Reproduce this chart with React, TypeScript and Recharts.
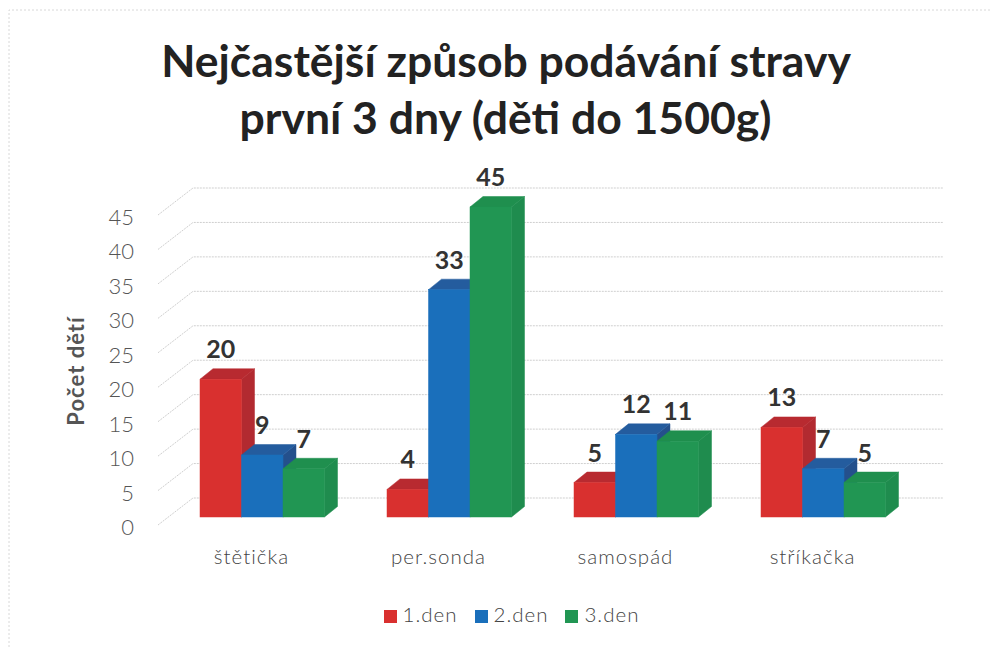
import React from "react";
import {
  BarChart,
  Bar,
  XAxis,
  YAxis,
  CartesianGrid,
  Legend,
  LabelList,
} from "recharts";

const categories = ["štětička", "per.sonda", "samospád", "stříkačka"];
const den1 = [20, 4, 5, 13];
const den2 = [9, 33, 12, 7];
const den3 = [7, 45, 11, 5];
const yTicks = [0, 5, 10, 15, 20, 25, 30, 35, 40, 45];

const data = categories.map((name, i) => ({
  name,
  den1: den1[i],
  den2: den2[i],
  den3: den3[i],
}));

const FONT = "Lato, sans-serif";
const DEPTH_X = 13;
const DEPTH_Y = 10.5;

// front face plus top and side, fake 3D like the excel chart
const makeBar3D = (front: string, top: string, side: string) => (props: any) => {
  const { x, y, width, height } = props;
  return (
    <g>
      <polygon
        points={`${x + width},${y} ${x + width + DEPTH_X},${y - DEPTH_Y} ${x + width + DEPTH_X},${y + height - DEPTH_Y} ${x + width},${y + height}`}
        fill={side}
        stroke={side}
        strokeWidth={0.5}
      />
      <polygon
        points={`${x},${y} ${x + DEPTH_X},${y - DEPTH_Y} ${x + width + DEPTH_X},${y - DEPTH_Y} ${x + width},${y}`}
        fill={top}
        stroke={top}
        strokeWidth={0.5}
      />
      <rect x={x} y={y} width={width} height={height} fill={front} stroke={front} strokeWidth={0.5} />
    </g>
  );
};

// gridline runs along the side wall then across the back wall
const WallLine = (props: any) => {
  const { y1 } = props;
  return (
    <polyline
      points={`158,${y1 + 8} 193,${y1 - 19} 943,${y1 - 19}`}
      fill="none"
      stroke="#cfcfcf"
      strokeWidth={1}
      strokeDasharray="2 1"
    />
  );
};

const YTick = (props: any) => (
  <text
    x={134}
    y={props.y + 18}
    textAnchor="end"
    fontFamily={FONT}
    fontSize={22}
    fontWeight={300}
    fill="#555"
  >
    {props.payload.value}
  </text>
);

const XTick = (props: any) => (
  <text
    x={props.x - 11}
    y={564}
    textAnchor="middle"
    fontFamily={FONT}
    fontSize={20.5}
    fontWeight={300}
    letterSpacing={1}
    fill="#444"
  >
    {props.payload.value}
  </text>
);

const labelStyle = {
  fontFamily: FONT,
  fontSize: 25,
  fontWeight: 700,
  fill: "#333",
};

export default function App() {
  return (
    <div style={{ position: "absolute", left: 0, top: 0, width: 990, height: 647, background: "#fff" }}>
      <BarChart
        width={990}
        height={647}
        data={data}
        barSize={41.5}
        barGap={0}
        margin={{ top: 207, right: 73, bottom: 66, left: 69 }}
      >
        <polyline points="9,647 9,10 990,10" fill="none" stroke="#d8d8d8" strokeDasharray="2 2" />
        <CartesianGrid vertical={false} horizontal={(p: any) => <WallLine key={p.index} {...p} />} />
        <XAxis
          dataKey="name"
          axisLine={false}
          tickLine={false}
          height={40}
          tick={XTick}
          interval={0}
        />
        <YAxis
          domain={[0, 45]}
          ticks={yTicks}
          width={100}
          axisLine={false}
          tickLine={false}
          tick={YTick}
          interval={0}
        />
        <Legend
          iconType="square"
          iconSize={13}
          verticalAlign="bottom"
          align="center"
          wrapperStyle={{
            fontFamily: FONT,
            fontSize: 20.5,
            fontWeight: 300,
            letterSpacing: 1,
            left: 320,
            width: 400,
            bottom: 21,
          }}
          formatter={(value: string) => (
            <span style={{ color: "#444", marginLeft: 2, marginRight: 7 }}>{value}</span>
          )}
        />
        <Bar
          dataKey="den1"
          name="1.den"
          fill="#d9302f"
          isAnimationActive={false}
          shape={makeBar3D("#d9302f", "#b82a30", "#b22a30")}
        >
          <LabelList dataKey="den1" position="top" offset={21} style={labelStyle} />
        </Bar>
        <Bar
          dataKey="den2"
          name="2.den"
          fill="#1a6fbb"
          isAnimationActive={false}
          shape={makeBar3D("#1a6fbb", "#245c9e", "#24508c")}
        >
          <LabelList dataKey="den2" position="top" offset={21} style={labelStyle} />
        </Bar>
        <Bar
          dataKey="den3"
          name="3.den"
          fill="#219653"
          isAnimationActive={false}
          shape={makeBar3D("#219653", "#1f8f4e", "#1f8c4e")}
        >
          <LabelList dataKey="den3" position="top" offset={21} style={labelStyle} />
        </Bar>
        <text x={506} y={77} textAnchor="middle" fontFamily={FONT} fontSize={44.5} fontWeight={700} fill="#222">
          Nejčastější způsob podávání stravy
        </text>
        <text x={505.5} y={134} textAnchor="middle" fontFamily={FONT} fontSize={44.5} fontWeight={700} fill="#222">
          první 3 dny (děti do 1500g)
        </text>
        <text
          x={84}
          y={371}
          transform="rotate(-90 84 371)"
          textAnchor="middle"
          fontFamily={FONT}
          fontSize={22}
          fontWeight={700}
          letterSpacing={1}
          fill="#555"
        >
          Počet dětí
        </text>
      </BarChart>
    </div>
  );
}
